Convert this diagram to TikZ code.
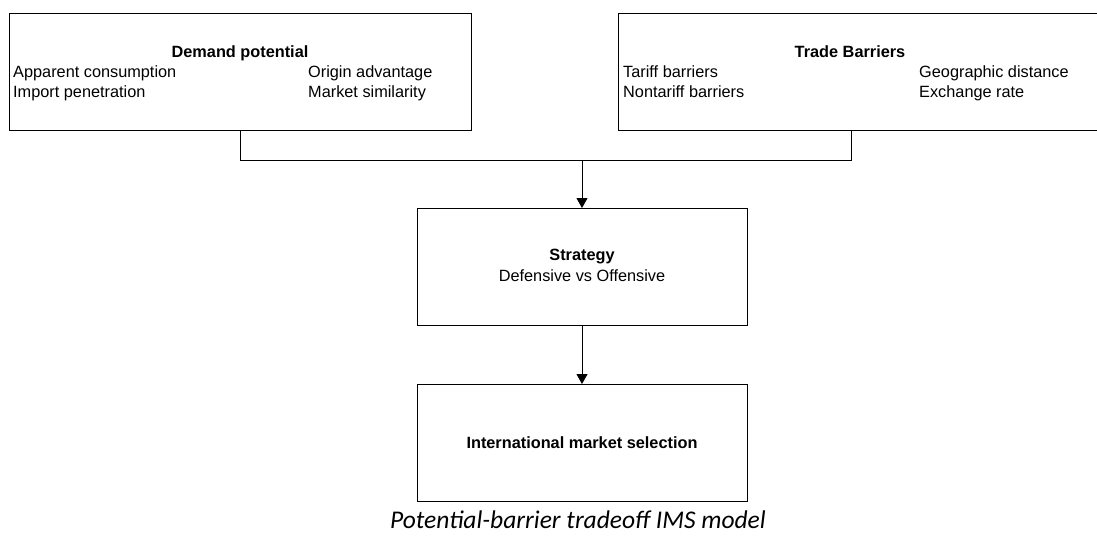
\documentclass[tikz,border=0pt]{standalone}
\usepackage{fontspec}
\setmainfont{Liberation Sans}
\newfontfamily\captionfont{Carlito}
\usetikzlibrary{arrows.meta}
\begin{document}
\begin{tikzpicture}[x=1pt,y=-1pt,
  box/.style={draw=black,line width=1pt,rectangle,inner sep=0pt,outer sep=0pt,anchor=north west},
  txt/.style={inner sep=0pt,font=\fontsize{16.3}{20}\selectfont},
  ltxt/.style={txt,anchor=base west},
  ctxt/.style={txt,anchor=base},
  conn/.style={draw=black,line width=1pt},
  arr/.style={conn,-{Triangle[width=11pt,length=10pt]}}]
\useasboundingbox (0,0) rectangle (1097,539);
\clip (0,0) rectangle (1097,539);
\fill[white] (0,0) rectangle (1097,539);

% upper boxes
\node[box,minimum width=462pt,minimum height=117pt] (dp) at (9,13) {};
\node[box,minimum width=492pt,minimum height=117pt] (tb) at (618,13) {};

\node[ctxt] (dpT) at (240,57) {\bfseries Demand potential};
\node[ltxt] (dp1) at (13,77) {Apparent consumption};
\node[ltxt] (dp2) at (13,97) {Import penetration};
\node[ltxt] (dp3) at (308,77) {Origin advantage};
\node[ltxt] (dp4) at (308,97) {Market similarity};

\node[ctxt] (tbT) at (850,57) {\bfseries Trade Barriers};
\node[ltxt] (tb1) at (623,77) {Tariff barriers};
\node[ltxt] (tb2) at (623,97) {Nontariff barriers};
\node[ltxt] (tb3) at (919,77) {Geographic distance};
\node[ltxt] (tb4) at (919,97) {Exchange rate};

% middle and bottom boxes
\node[box,minimum width=330pt,minimum height=117pt] (st) at (417,208) {};
\node[ctxt] (stT) at (582,260) {\bfseries Strategy};
\node[ctxt] (st1) at (582,281) {Defensive vs Offensive};

\node[box,minimum width=330pt,minimum height=117pt] (ims) at (417,384) {};
\node[ctxt] (imsT) at (582,448) {\bfseries International market selection};

% connectors
\coordinate (busL) at (240,160);
\coordinate (busR) at (851,160);
\coordinate (tbfoot) at (851,130);
\coordinate (junction) at (582,160);
\draw[conn] (dp.south) -- (busL) -- (busR) -- (tbfoot);
\draw[arr] (junction) -- (st.north);
\draw[arr] (st.south) -- (ims.north);

% caption
\node[inner sep=0pt,anchor=base] (cap) at (578,528)
  {\captionfont\itshape\fontsize{25.5}{30}\selectfont Potential-barrier tradeoff IMS model};
\end{tikzpicture}
\end{document}
